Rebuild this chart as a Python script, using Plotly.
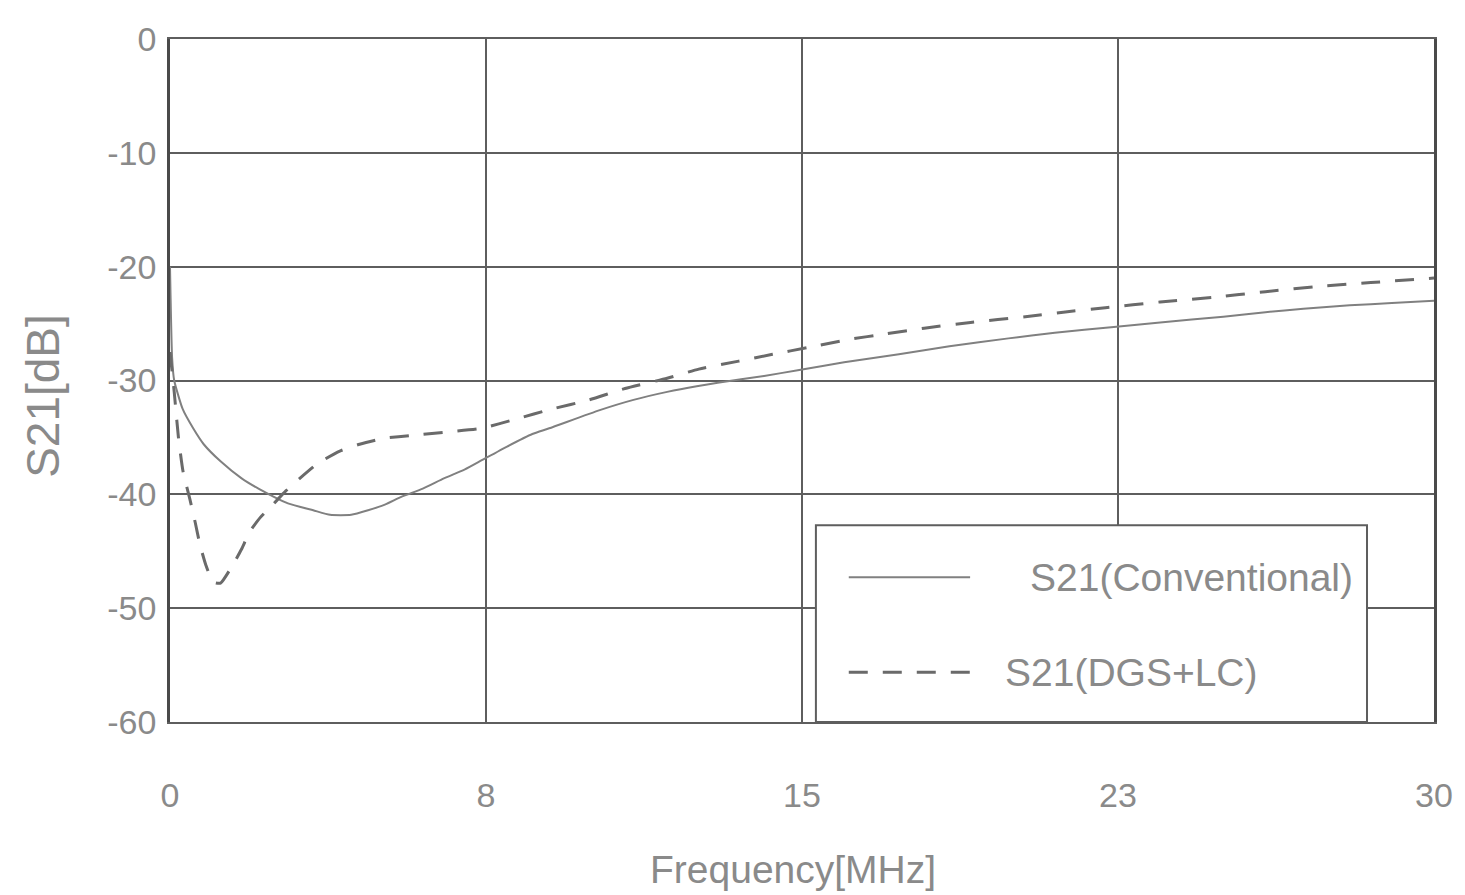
import plotly.graph_objects as go

# ---- data ----
freq_conv = [0, 0.05, 0.1, 0.3, 0.55, 0.8, 1.2, 1.7, 2.1, 2.8, 3.4, 3.8, 4.3, 4.7, 5.1,
             5.5, 6.0, 6.5, 7.0, 7.4, 8.0, 8.6, 9.0, 10.2, 11.0, 11.8, 12.5, 13.0, 14.1,
             14.9, 16.0, 17.3, 18.5, 19.9, 21.0, 22.4, 23.5, 25.0, 26.0, 26.9, 28.0, 29.0, 30.0]
s21_conv = [-20, -28, -30, -32.5, -34.2, -35.6, -37.1, -38.6, -39.5, -40.8, -41.4, -41.8,
            -41.8, -41.4, -40.9, -40.2, -39.5, -38.6, -37.8, -37.0, -35.8, -34.7, -34.2,
            -32.6, -31.7, -31.0, -30.5, -30.2, -29.6, -29.1, -28.4, -27.7, -27.0, -26.3,
            -25.8, -25.3, -24.9, -24.4, -24.0, -23.7, -23.4, -23.2, -23.0]

freq_dgs = [0, 0.1, 0.2, 0.31, 0.47, 0.6, 0.71, 0.85, 1.02, 1.2, 1.49, 1.7, 1.89, 2.15,
            2.44, 2.75, 3.08, 3.5, 4.03, 4.5, 5.04, 5.8, 6.63, 7.4, 8.2, 9.07, 9.95, 10.8,
            11.8, 12.55, 13.5, 14.3, 15.15, 16.1, 17.0, 17.9, 19.0, 20.3, 21.2, 22.2, 23.5,
            24.75, 26.0, 27.35, 28.5, 30.0]
s21_dgs = [-27.5, -31, -35, -38, -40.4, -42.5, -44.4, -46.2, -47.7, -47.8, -46.2, -44.8,
           -43.3, -42.0, -40.9, -39.7, -38.6, -37.3, -36.2, -35.6, -35.1, -34.8, -34.5,
           -34.2, -33.4, -32.5, -31.7, -30.7, -29.8, -29.0, -28.3, -27.7, -27.1, -26.4,
           -25.9, -25.4, -24.9, -24.4, -24.0, -23.6, -23.1, -22.7, -22.2, -21.7, -21.4, -21.0]

x_tickvals = [0, 7.5, 15, 22.5, 30]
x_ticktext = ["0", "8", "15", "23", "30"]
y_tickvals = [0, -10, -20, -30, -40, -50, -60]
y_ticktext = ["0", "-10", "-20", "-30", "-40", "-50", "-60"]

series_names = ["S21(Conventional)", "S21(DGS+LC)"]
x_title = "Frequency[MHz]"
y_title = "S21[dB]"

FONT = "Liberation Sans, Arial, sans-serif"
TEXT_C = "#8a8a8a"
GRID_C = "#5e5e5e"
SOLID_C = "#808080"
DASH_C = "#6a6a6a"

fig = go.Figure()
fig.add_trace(go.Scatter(x=freq_conv, y=s21_conv, mode="lines", name=series_names[0],
                         line=dict(color=SOLID_C, width=2, shape="spline", smoothing=0.5),
                         showlegend=False))
fig.add_trace(go.Scatter(x=freq_dgs, y=s21_dgs, mode="lines", name=series_names[1],
                         line=dict(color=DASH_C, width=3, dash="19px,15px",
                                   shape="spline", smoothing=0.5),
                         showlegend=False))

fig.update_xaxes(range=[0, 30], tickvals=x_tickvals, ticktext=x_ticktext,
                 showgrid=True, gridcolor=GRID_C, gridwidth=2, zeroline=False,
                 showline=True, linecolor=GRID_C, linewidth=2, mirror=True,
                 ticks="", ticklabelstandoff=42,
                 tickfont=dict(family=FONT, size=34, color=TEXT_C))
fig.update_yaxes(range=[-60, 0], tickvals=y_tickvals, ticktext=y_ticktext,
                 showgrid=True, gridcolor=GRID_C, gridwidth=2, zeroline=False,
                 showline=True, linecolor="#4a4a4a", linewidth=2.5, mirror=True,
                 ticks="", ticklabelstandoff=4,
                 tickfont=dict(family=FONT, size=34, color=TEXT_C))

# legend (drawn manually to match the long line samples of the original)
lx0, lx1, ly0, ly1 = 0.511, 0.947, 0.0, 0.288
fig.add_shape(type="rect", xref="paper", yref="paper", x0=lx0, x1=lx1, y0=ly0, y1=ly1,
              fillcolor="white", line=dict(color=GRID_C, width=2), layer="above")
fig.add_shape(type="line", xref="paper", yref="paper", x0=0.537, x1=0.633, y0=0.212, y1=0.212,
              line=dict(color=SOLID_C, width=2), layer="above")
fig.add_shape(type="line", xref="paper", yref="paper", x0=0.537, x1=0.633, y0=0.073, y1=0.073,
              line=dict(color=DASH_C, width=3, dash="19px,15px"), layer="above")
fig.add_annotation(xref="paper", yref="paper", x=0.679, y=0.212, text=series_names[0],
                   showarrow=False, xanchor="left", yanchor="middle",
                   font=dict(family=FONT, size=39, color=TEXT_C))
fig.add_annotation(xref="paper", yref="paper", x=0.659, y=0.073, text=series_names[1],
                   showarrow=False, xanchor="left", yanchor="middle",
                   font=dict(family=FONT, size=39, color=TEXT_C))

# axis titles
fig.add_annotation(xref="paper", yref="paper", x=0.493, y=-0.216, text=x_title,
                   showarrow=False, xanchor="center", yanchor="middle",
                   font=dict(family=FONT, size=39, color=TEXT_C))
fig.add_annotation(xref="paper", yref="paper", x=-0.101, y=0.478, text=y_title,
                   showarrow=False, textangle=-90, xanchor="center", yanchor="middle",
                   font=dict(family=FONT, size=46, color=TEXT_C))

fig.update_layout(width=1457, height=887, margin=dict(l=162, r=28, t=30, b=173),
                  paper_bgcolor="white", plot_bgcolor="white")

fig.write_html("out.html")
